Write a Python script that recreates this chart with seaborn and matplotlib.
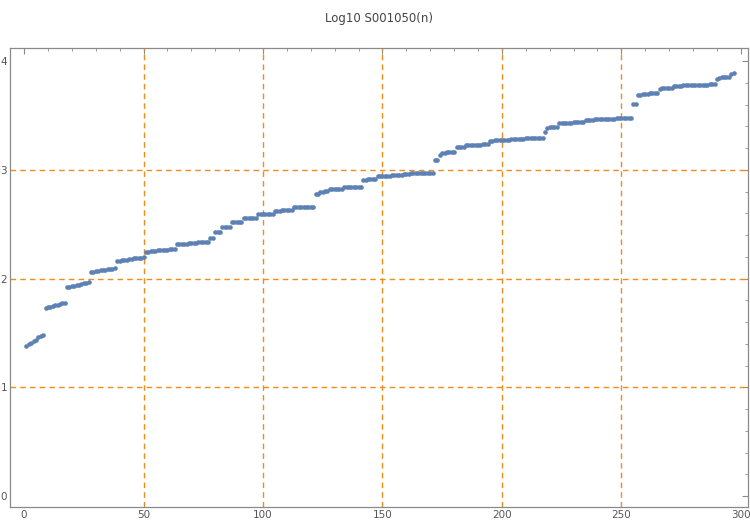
import matplotlib
matplotlib.use("Agg")
import matplotlib.pyplot as plt
import numpy as np
import pandas as pd
import seaborn as sns
from matplotlib.ticker import MultipleLocator

BLUE = "#5e81b5"
ORANGE = "#f08c1e"
FRAME = "#8a8a8a"

# log10 of S001050(n), n = 1..297
log_vals = [
    1.38, 1.40, 1.41, 1.43, 1.44, 1.46, 1.47, 1.48,
    1.73, 1.735, 1.74, 1.75, 1.755, 1.76, 1.765, 1.775, 1.78,
    1.92, 1.925, 1.93, 1.935, 1.94, 1.945, 1.95, 1.955, 1.96, 1.965,
    2.06, 2.065, 2.07, 2.07, 2.075, 2.08, 2.08, 2.085, 2.09, 2.09, 2.095,
    2.16, 2.165, 2.17, 2.175, 2.175, 2.18, 2.18, 2.185, 2.185, 2.19, 2.19, 2.195,
    2.24, 2.245, 2.25, 2.255, 2.255, 2.26,
    2.265, 2.265, 2.265, 2.265, 2.275, 2.275, 2.275,
    2.315, 2.315, 2.315, 2.315, 2.315, 2.325, 2.325, 2.325, 2.325,
    2.335, 2.335, 2.335, 2.335, 2.335,
    2.37, 2.37, 2.425, 2.425, 2.425, 2.47, 2.47, 2.47, 2.47,
    2.52, 2.52, 2.52, 2.52, 2.52,
    2.555, 2.555, 2.555, 2.555, 2.555, 2.555,
    2.59, 2.59, 2.59, 2.59, 2.59, 2.59, 2.59,
    2.62, 2.62, 2.62, 2.63, 2.63, 2.63, 2.63, 2.63,
    2.655, 2.655, 2.655, 2.655, 2.655, 2.655, 2.655, 2.655, 2.655,
    2.775, 2.775, 2.795, 2.795, 2.805, 2.805,
    2.825, 2.825, 2.825, 2.825, 2.825, 2.825,
    2.845, 2.845, 2.845, 2.845, 2.845, 2.845, 2.845, 2.845,
    2.905, 2.905, 2.92, 2.92, 2.92, 2.92,
    2.94, 2.94, 2.94, 2.94, 2.94, 2.94,
    2.95, 2.95, 2.95, 2.95, 2.95, 2.96, 2.96, 2.96,
    2.97, 2.97, 2.97, 2.97, 2.97, 2.97, 2.97, 2.97, 2.97, 2.97,
    3.09, 3.09, 3.14, 3.155, 3.155, 3.16, 3.16, 3.16, 3.16,
    3.21, 3.21, 3.21, 3.21,
    3.225, 3.225, 3.225, 3.225, 3.225, 3.225, 3.225,
    3.24, 3.24, 3.24, 3.265, 3.265,
    3.275, 3.275, 3.275, 3.275, 3.275, 3.275, 3.275,
    3.285, 3.285, 3.285, 3.285, 3.285, 3.285,
    3.29, 3.29, 3.29, 3.29, 3.29, 3.29, 3.29, 3.29,
    3.345, 3.38, 3.39, 3.39, 3.39, 3.39,
    3.43, 3.43, 3.43, 3.43, 3.43, 3.43,
    3.44, 3.44, 3.44, 3.44, 3.44,
    3.455, 3.455, 3.455, 3.455,
    3.465, 3.465, 3.465, 3.465, 3.465, 3.465, 3.465, 3.465, 3.465,
    3.475, 3.475, 3.475, 3.475, 3.475, 3.475, 3.475,
    3.605, 3.605, 3.685, 3.69,
    3.70, 3.70, 3.70, 3.705, 3.705, 3.705, 3.705,
    3.74, 3.75, 3.755, 3.755, 3.755, 3.755,
    3.77, 3.77, 3.77, 3.77,
    3.778, 3.778, 3.778, 3.778, 3.778, 3.778, 3.778, 3.778, 3.778, 3.778, 3.778,
    3.787, 3.787, 3.787, 3.835, 3.845,
    3.852, 3.852, 3.852, 3.852, 3.88, 3.893,
]
n_vals = list(range(1, len(log_vals) + 1))

x_grid = [50, 100, 150, 200, 250]
y_grid = [1, 2, 3]

df = pd.DataFrame({"n": n_vals, "v": log_vals})

sns.set_style("white")
fig = plt.figure(figsize=(7.5, 5.24), dpi=100)
ax = fig.add_axes([0.0133, 0.0324, 0.984, 0.876])

for gx in x_grid:
    ax.axvline(gx, color=ORANGE, lw=1.0, ls=(0, (4, 3)), zorder=1)
for gy in y_grid:
    ax.axhline(gy, color=ORANGE, lw=1.0, ls=(0, (4, 3)), zorder=1)

sns.scatterplot(data=df, x="n", y="v", color=BLUE, s=11, linewidth=0, ax=ax, zorder=3)

ax.set_xlim(-5.9, 303)
ax.set_ylim(-0.1, 4.12)
ax.xaxis.set_major_locator(MultipleLocator(50))
ax.xaxis.set_minor_locator(MultipleLocator(10))
ax.yaxis.set_major_locator(MultipleLocator(1))
ax.yaxis.set_minor_locator(MultipleLocator(0.2))
ax.tick_params(which="both", direction="in", top=True, right=True,
               labeltop=False, labelright=False, color=FRAME,
               labelcolor="#555555", labelsize=7.5, pad=2)
ax.tick_params(which="major", length=4, width=0.8)
ax.tick_params(which="minor", length=2.5, width=0.6)
for sp in ax.spines.values():
    sp.set_color(FRAME)
    sp.set_linewidth(0.9)
ax.set_xlabel("")
ax.set_ylabel("")
ax.set_title("Log10 S001050(n)", fontsize=8.5, color="#444444", pad=19)

fig.savefig("out.png", dpi=100)
